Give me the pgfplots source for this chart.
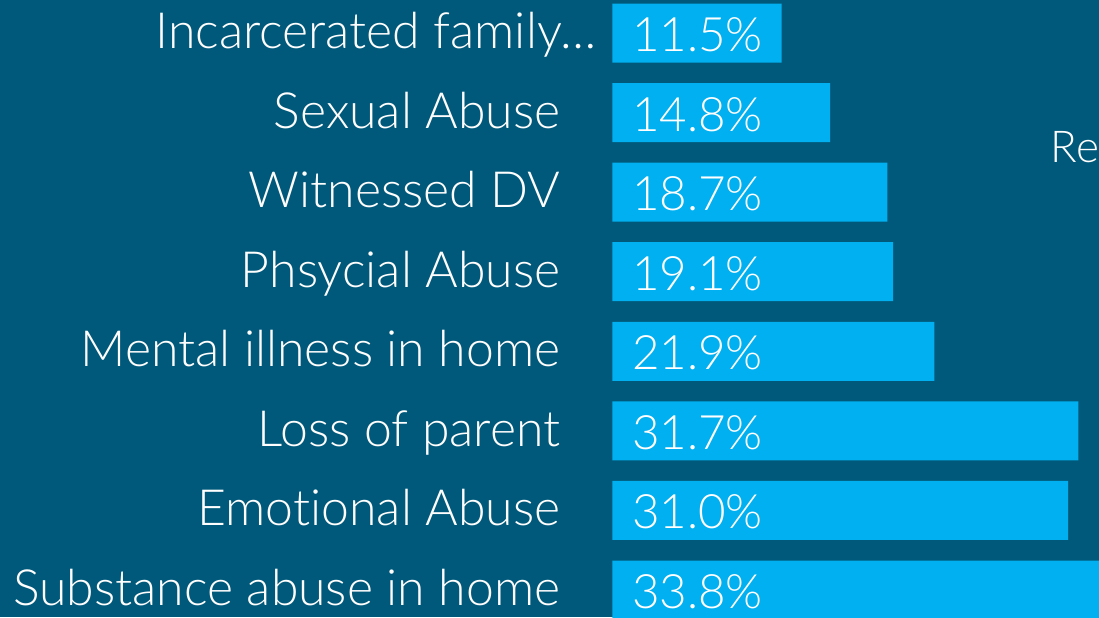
\documentclass[border=0pt]{standalone}
\usepackage{pgfplots}
\pgfplotsset{compat=1.18}
\usepackage{pgfplotstable}
\usepackage{fontspec}
\setmainfont{Lato}[UprightFont=* Light, Ligatures=NoCommon]
\definecolor{bgteal}{RGB}{0,89,122}
\definecolor{barblue}{RGB}{0,176,240}
\pgfplotstableread{
y v
7 11.5
6 14.8
5 18.7
4 19.1
3 21.9
2 31.7
1 31.0
0 33.8
}\data
\begin{document}
\begin{tikzpicture}
\fill[bgteal] (0,0) rectangle (109.9mm,61.7mm);
\path[use as bounding box] (0,0) rectangle (109.9mm,61.7mm);
\begin{axis}[
  at={(61.25mm,0)}, anchor=south west,
  scale only axis, width=48.65mm, height=61.7mm,
  xmin=0, xmax=33.1, ymin=-0.339, ymax=7.415,
  axis line style={draw=none},
  major tick length=0pt,
  xtick=\empty,
  ytick={0,...,7},
  yticklabels={Substance abuse in home, Emotional Abuse, Loss of parent, Mental illness in home, Phsycial Abuse, Witnessed DV, Sexual Abuse, {Incarcerated family…\hspace*{-3.6mm}}},
  yticklabel style={anchor=base east, inner sep=0pt, xshift=-5.15mm, yshift=-1.55mm, text=white, font=\fontsize{14.2}{17}\selectfont},
  /pgf/number format/assume math mode=true,
]
\addplot[xbar, fill=barblue, draw=none, bar width=5.9mm] table[x=v, y=y] {\data};
\addplot[draw=none, mark=none,
  point meta=explicit,
  nodes near coords={\pgfmathprintnumber[fixed,fixed zerofill,precision=1]{\pgfplotspointmeta}\%},
  every node near coord/.style={anchor=base west, inner sep=0pt, xshift=1.9mm, yshift=-1.85mm, text=white, font=\fontsize{13.5}{16}\selectfont}
] table[x expr=0, y=y, meta=v] {\data};
\end{axis}
\node[anchor=base west, inner sep=0pt, text=white, font=\fontsize{12.5}{15}\selectfont] at (105.0mm,45.4mm) {Re};
\end{tikzpicture}
\end{document}
